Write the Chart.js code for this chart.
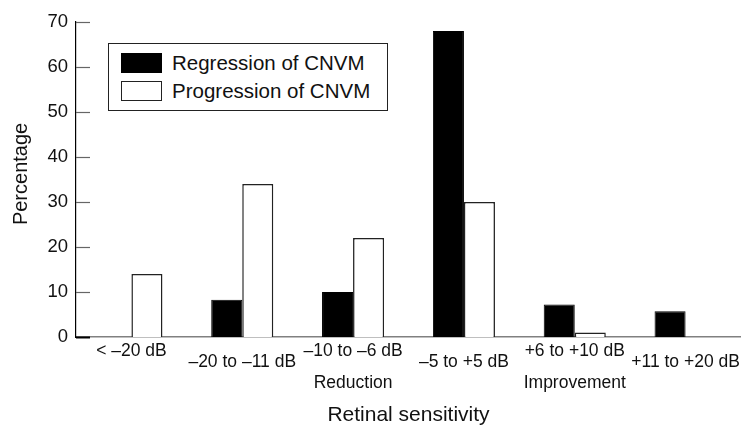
<!DOCTYPE html>
<html>
<head>
<meta charset="utf-8">
<script src="https://cdn.jsdelivr.net/npm/chart.js@4/dist/chart.umd.min.js"></script>
<style>
  html, body { margin: 0; padding: 0; background: #fff; }
  #wrap { position: relative; width: 741px; height: 426px; }
  #legend {
    position: absolute; left: 108px; top: 43px; width: 280px; height: 68px;
    box-sizing: border-box; border: 1px solid #222; background: #fff;
    font-family: 'Liberation Sans', Arial, sans-serif; font-size: 20.5px; color: #111;
  }
  #legend .row { position: absolute; left: 12px; height: 20px; display: flex; align-items: center; }
  #legend .sw { width: 41px; height: 20px; box-sizing: border-box; margin-right: 10px; }
</style>
</head>
<body>
<div id="wrap">
  <canvas id="chart"></canvas>
  <div id="legend"></div>
</div>
<script>
  const categories = ['< –20 dB', '–20 to –11 dB', '–10 to –6 dB', '–5 to +5 dB', '+6 to +10 dB', '+11 to +20 dB'];
  const groupNames = ['', '', 'Reduction', '', 'Improvement', ''];
  const regression = [null, 8.3, 10, 68, 7.2, 5.7];
  const progression = [14, 34, 22, 30, 1, null];
  const yTicks = [0, 10, 20, 30, 40, 50, 60, 70];

  const font = "'Liberation Sans', Arial, sans-serif";

  // staggered x labels: every second one a half line lower, group name below
  function tickLines(i) {
    const lines = i % 2 === 0 ? [categories[i]] : ['', categories[i]];
    if (groupNames[i]) {
      while (lines.length < 3) lines.push('');
      lines.push(groupNames[i]);
    }
    return lines;
  }

  const inwardTicks = {
    id: 'inwardTicks',
    afterDatasetsDraw(chart) {
      const { ctx, chartArea } = chart;
      const y = chart.scales.y;
      ctx.save();
      y.ticks.forEach(t => {
        const py = Math.round(y.getPixelForValue(t.value)) + 0.5;
        ctx.strokeStyle = t.value === 0 ? '#000' : '#666';
        ctx.lineWidth = t.value === 0 ? 2 : 1.2;
        ctx.beginPath();
        ctx.moveTo(chartArea.left, py);
        ctx.lineTo(chartArea.left + 14, py);
        ctx.stroke();
      });
      ctx.restore();
    }
  };

  const chart = new Chart(document.getElementById('chart').getContext('2d'), {
    type: 'bar',
    data: {
      labels: categories.map((c, i) => tickLines(i)),
      datasets: [
        {
          label: 'Regression of CNVM',
          data: regression,
          backgroundColor: '#000',
          borderColor: '#000',
          borderWidth: 1
        },
        {
          label: 'Progression of CNVM',
          data: progression,
          backgroundColor: '#fff',
          borderColor: '#222',
          borderWidth: 1.5
        }
      ]
    },
    options: {
      responsive: true,
      maintainAspectRatio: false,
      animation: false,
      layout: { autoPadding: false, padding: { top: 22, right: 0, bottom: 0, left: 0 } },
      datasets: { bar: { barPercentage: 1, categoryPercentage: 0.56 } },
      plugins: { legend: { display: false }, tooltip: { enabled: false } },
      scales: {
        x: {
          grid: { display: false, drawTicks: false },
          border: { display: true, color: '#808080', width: 1.5 },
          ticks: {
            color: '#111', padding: 9, maxRotation: 0, autoSkip: false,
            font: { family: font, size: 17.5, lineHeight: '10.5px' }
          },
          title: {
            display: true, text: 'Retinal sensitivity', color: '#111',
            font: { family: font, size: 21, lineHeight: 1 },
            padding: { top: 18, bottom: 0 }
          },
          afterFit(scale) {
            scale.height = 89;
            scale.paddingLeft = 0;
            scale.paddingRight = 0;
          }
        },
        y: {
          min: 0, max: 70,
          grid: { display: false, drawTicks: false },
          border: { display: true, color: '#000', width: 1.2 },
          afterBuildTicks(scale) { scale.ticks = yTicks.map(v => ({ value: v })); },
          ticks: { color: '#111', padding: 8, font: { family: font, size: 18.5 } },
          title: {
            display: true, text: '\u00a0\u00a0Percentage', color: '#111',
            font: { family: font, size: 20, lineHeight: 1 },
            padding: { top: 11, bottom: 0 }
          },
          afterFit(scale) { scale.width = 76; }
        }
      }
    },
    plugins: [inwardTicks]
  });

  // boxed legend built from the datasets
  const legend = document.getElementById('legend');
  chart.data.datasets.forEach((ds, i) => {
    const row = document.createElement('div');
    row.className = 'row';
    row.style.top = (9 + i * 28) + 'px';
    const sw = document.createElement('span');
    sw.className = 'sw';
    sw.style.background = ds.backgroundColor;
    sw.style.border = '1px solid ' + ds.borderColor;
    const txt = document.createElement('span');
    txt.textContent = ds.label;
    row.appendChild(sw);
    row.appendChild(txt);
    legend.appendChild(row);
  });
</script>
</body>
</html>
